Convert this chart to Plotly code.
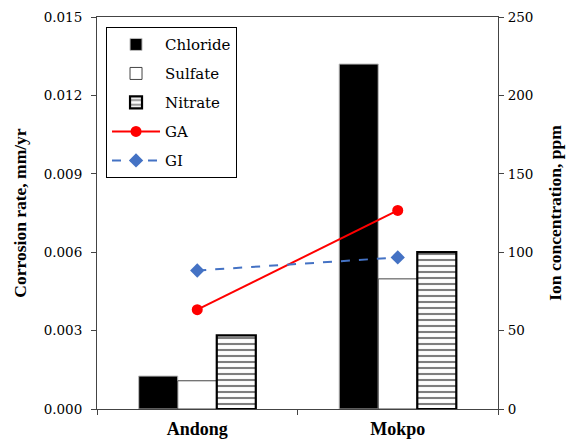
import plotly.graph_objects as go

sites = ["Andong", "Mokpo"]
chloride = [21, 220]
sulfate = [18, 83]
nitrate = [47, 100]
ga = [0.0038, 0.0076]
gi = [0.0053, 0.0058]

left_ticks = [0.000, 0.003, 0.006, 0.009, 0.012, 0.015]
left_ticktext = ["0.000", "0.003", "0.006", "0.009", "0.012", "0.015"]
right_ticks = [0, 50, 100, 150, 200, 250]

FONT = "Liberation Serif, Times New Roman, serif"
FONT_REG = "DejaVu Serif, serif"

fig = go.Figure()
fig.add_trace(go.Bar(x=sites, y=chloride, name="Chloride", yaxis="y",
                     marker=dict(color="black", line=dict(color="#bbbbbb", width=1)),
                     legendgroup="a"))
fig.add_trace(go.Bar(x=sites, y=sulfate, name="Sulfate", yaxis="y",
                     marker=dict(color="white", line=dict(color="#444444", width=1)),
                     legendgroup="b"))
fig.add_trace(go.Bar(x=sites, y=nitrate, name="Nitrate", yaxis="y",
                     marker=dict(color="white", line=dict(color="black", width=2.2),
                                 pattern=dict(shape="-", fgcolor="black", bgcolor="white",
                                              size=6, solidity=0.35)),
                     legendgroup="c"))
fig.add_trace(go.Scatter(x=sites, y=ga, name="GA", yaxis="y2", mode="lines+markers",
                         line=dict(color="#FF0000", width=2),
                         marker=dict(symbol="circle", size=11, color="#FF0000"),
                         legendgroup="d"))
fig.add_trace(go.Scatter(x=sites, y=gi, name="GI", yaxis="y2", mode="lines+markers",
                         line=dict(color="#4472C4", width=2, dash="dash"),
                         marker=dict(symbol="diamond", size=11, color="#4472C4"),
                         legendgroup="e"))

fig.update_layout(
    width=573, height=442,
    margin=dict(l=97, r=75, t=17, b=33, autoexpand=False),
    paper_bgcolor="white", plot_bgcolor="white",
    font=dict(family=FONT_REG, size=14, color="black"),
    barmode="group", bargap=0.416, bargroupgap=0,
    showlegend=True,
    legend=dict(x=0.0225, y=0.974, xanchor="left", yanchor="top",
                bordercolor="black", borderwidth=1, bgcolor="white",
                font=dict(family=FONT_REG, size=15, color="black"),
                traceorder="grouped", tracegroupgap=6.5, itemwidth=48),
    xaxis=dict(type="category", showline=True, linecolor="#444444", linewidth=1,
               mirror=True, ticks="outside", ticklen=5, tickcolor="#444444",
               tickson="boundaries", ticklabelstandoff=3, automargin=False,
               tickfont=dict(family=FONT, size=18, color="black", weight="bold"),
               showgrid=False, zeroline=False),
    yaxis=dict(side="right", range=[0, 250], tickvals=right_ticks,
               showline=True, linecolor="#444444", linewidth=1,
               ticks="outside", ticklen=5, tickcolor="#444444", automargin=False,
               showgrid=False, zeroline=False, ticklabelstandoff=1,
               tickfont=dict(family=FONT_REG, size=13.5, color="black"),
               title=dict(text="Ion concentration, ppm",
                          font=dict(family=FONT, size=17.5, color="black", weight="bold"),
                          standoff=16)),
    yaxis2=dict(overlaying="y", side="left", range=[0, 0.015],
                tickvals=left_ticks, ticktext=left_ticktext,
                showline=True, linecolor="#444444", linewidth=1, automargin=False,
                ticks="outside", ticklen=5, tickcolor="#444444",
                showgrid=False, zeroline=False, ticklabelstandoff=6,
                tickfont=dict(family=FONT_REG, size=13.5, color="black"),
                title=dict(text="Corrosion rate, mm/yr",
                           font=dict(family=FONT, size=17.5, color="black", weight="bold"),
                           standoff=12)),
)

fig.write_html("out.html")
